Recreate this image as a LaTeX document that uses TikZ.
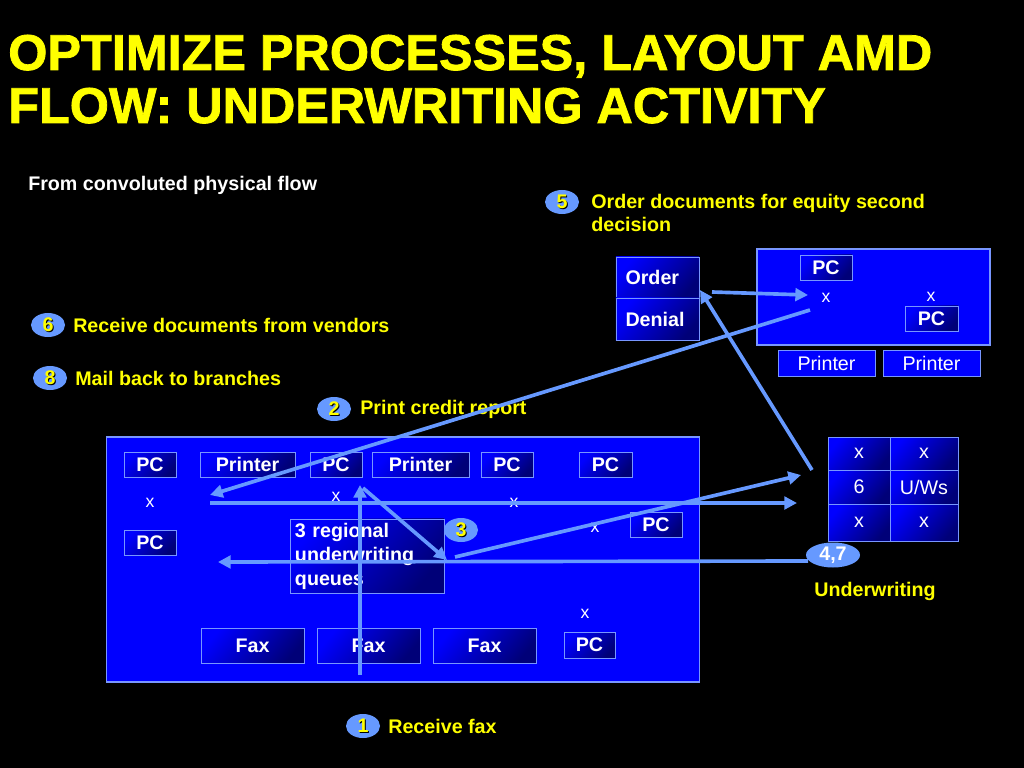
\documentclass[tikz,border=0pt]{standalone}
\usepackage{fontspec}
\setmainfont{Liberation Sans}
\newfontfamily\titlefont{Liberation Sans}[BoldFeatures={FakeBold=1.5}]
\usepackage{xcolor}
\usetikzlibrary{shapes.geometric, arrows.meta, positioning, calc}
\definecolor{flowblue}{RGB}{102,153,255}
\definecolor{edgeblue}{RGB}{120,150,255}
\definecolor{deepnavy}{RGB}{0,0,120}
\definecolor{brightblue}{RGB}{0,0,255}
\definecolor{tityellow}{RGB}{255,255,0}
\newcommand{\shadnum}[1]{\makebox[0pt][l]{\kern0.8pt\raisebox{-0.8pt}{\textcolor{black}{#1}}}#1}
\tikzset{
    panel/.style={rectangle, draw=edgeblue, fill=brightblue, line width=0.8pt, inner sep=0pt},
    unit/.style={rectangle, draw=edgeblue, line width=0.6pt, left color=brightblue,
                 right color=deepnavy, shading angle=50, text=white, inner sep=0pt,
                 font=\bfseries\fontsize{14}{17}\selectfont},
    cell/.style={unit, font=\fontsize{14}{17}\selectfont},
    plainunit/.style={rectangle, draw=edgeblue, line width=0.6pt, fill=brightblue,
                      text=white, inner sep=0pt, font=\fontsize{14}{17}\selectfont},
    badge/.style={ellipse, fill=flowblue, inner sep=0pt, minimum width=0.85cm,
                  minimum height=0.6cm, text=tityellow,
                  font=\bfseries\fontsize{14}{17}\selectfont},
    note/.style={anchor=west, text=tityellow, inner sep=0pt, align=left,
                 font=\bfseries\fontsize{14}{17}\selectfont},
    xmark/.style={text=white, inner sep=0pt, font=\fontsize{12.5}{15}\selectfont},
    flow/.style={-{Triangle[length=9pt, width=9pt]}, line width=2.6pt, draw=flowblue}
}

\begin{document}
\begin{tikzpicture}[x=0.025cm, y=-0.025cm]

  % --- Background ---
  \fill[black] (0,0) rectangle (1024,768);
  \useasboundingbox (0,0) rectangle (1024,768);

  % --- Title ---
  \node[anchor=base west, inner sep=0pt, text=tityellow,
        font=\titlefont\bfseries\fontsize{35.8}{40}\selectfont] (title1) at (8,70)
        {OPTIMIZE PROCESSES, LAYOUT AMD};
  \node[anchor=base west, inner sep=0pt, text=tityellow,
        font=\titlefont\bfseries\fontsize{35.8}{40}\selectfont] (title2) at (8,123)
        {FLOW: UNDERWRITING ACTIVITY};
  \node[anchor=base west, inner sep=0pt, text=white,
        font=\bfseries\fontsize{14}{17}\selectfont] (sub) at (28,190)
        {From convoluted physical flow};

  % --- Step labels ---
  \node[badge] (b5) at (562,202) {\shadnum{5}};
  \node[note] (n5) at (591,213) {Order documents for equity second\\decision};
  \node[badge] (b6) at (48,325) {\shadnum{6}};
  \node[note] (n6) at (73,325) {Receive documents from vendors};
  \node[badge] (b8) at (50,378) {\shadnum{8}};
  \node[note] (n8) at (75,378) {Mail back to branches};
  \node[badge] (b2) at (334,409) {\shadnum{2}};
  \node[note] (n2) at (360,409) {Print credit report};
  \node[badge] (b1) at (363,726) {\shadnum{1}};
  \node[note] (n1) at (388,726) {Receive fax};

  % --- Branch floor ---
  \node[panel, minimum width=14.8cm, minimum height=6.125cm] (floor) at (403,559.5) {};
  \node[unit, minimum width=1.3cm, minimum height=0.625cm] (pc1) at (150,464.5) {PC};
  \node[unit, minimum width=2.375cm, minimum height=0.625cm] (prn1) at (247.5,464.5) {Printer};
  \node[unit, minimum width=1.3cm, minimum height=0.625cm] (pc2) at (336,464.5) {PC};
  \node[unit, minimum width=2.425cm, minimum height=0.625cm] (prn2) at (420.5,464.5) {Printer};
  \node[unit, minimum width=1.3cm, minimum height=0.625cm] (pc3) at (507,464.5) {PC};
  \node[unit, minimum width=1.325cm, minimum height=0.625cm] (pc4) at (605.5,464.5) {PC};
  \node[unit, minimum width=1.3cm, minimum height=0.625cm] (pc5) at (150,542.5) {PC};
  \node[unit, minimum width=1.3cm, minimum height=0.625cm] (pc6) at (656,524.5) {PC};
  \node[unit, minimum width=3.85cm, minimum height=1.85cm, text width=3.6cm,
        align=left, inner xsep=0.125cm] (queue) at (367,556)
        {3 regional\\underwriting\\queues};
  \node[unit, minimum width=2.575cm, minimum height=0.875cm] (fax1) at (252.5,645.5) {Fax};
  \node[unit, minimum width=2.575cm, minimum height=0.875cm] (fax2) at (368.5,645.5) {Fax};
  \node[unit, minimum width=2.575cm, minimum height=0.875cm] (fax3) at (484.5,645.5) {Fax};
  \node[unit, minimum width=1.275cm, minimum height=0.65cm] (pc7) at (589.5,645) {PC};
  \node[xmark] (xa) at (150,503) {x};
  \node[xmark] (xb) at (336,497) {x};
  \node[xmark] (xc) at (514,503) {x};
  \node[xmark] (xd) at (595,528) {x};
  \node[xmark] (xe) at (585,614) {x};
  \node[badge] (b3) at (461,530) {\shadnum{3}};

  % --- Order / Denial ---
  \node[unit, minimum width=2.075cm, minimum height=1.025cm, text width=1.6cm,
        align=left, inner xsep=0.225cm] (order) at (657.5,277.5) {Order};
  \node[unit, minimum width=2.075cm, minimum height=1.05cm, text width=1.6cm,
        align=left, inner xsep=0.225cm] (denial) at (657.5,319) {Denial};

  % --- Second decision office ---
  \node[panel, minimum width=5.825cm, minimum height=2.4cm] (office) at (873.5,297) {};
  \node[unit, minimum width=1.3cm, minimum height=0.625cm] (pc8) at (826,267.5) {PC};
  \node[unit, minimum width=1.325cm, minimum height=0.625cm] (pc9) at (931.5,318.5) {PC};
  \node[xmark] (xf) at (826,298) {x};
  \node[xmark] (xg) at (931,297) {x};
  \node[plainunit, minimum width=2.425cm, minimum height=0.65cm] (prn3) at (826.5,363) {Printer};
  \node[plainunit, minimum width=2.425cm, minimum height=0.65cm] (prn4) at (931.5,363) {Printer};

  % --- Underwriting ---
  \node[cell, minimum width=1.55cm, minimum height=0.825cm] (uw11) at (859,453.5) {x};
  \node[cell, minimum width=1.7cm, minimum height=0.825cm] (uw12) at (924,453.5) {x};
  \node[cell, minimum width=1.55cm, minimum height=0.85cm] (uw21) at (859,487) {6};
  \node[cell, minimum width=1.7cm, minimum height=0.85cm] (uw22) at (924,487) {U/Ws};
  \node[cell, minimum width=1.55cm, minimum height=0.925cm] (uw31) at (859,522.5) {x};
  \node[cell, minimum width=1.7cm, minimum height=0.925cm] (uw32) at (924,522.5) {x};
  \node[badge, minimum width=1.35cm, minimum height=0.625cm, text=white] (b47) at (833,555) {4,7};
  \node[note, anchor=center] (uwlabel) at (875,591) {Underwriting};

  % --- Flow ends ---
  \coordinate (faxfoot) at (360,675);
  \coordinate (pctop) at (360,485);
  \coordinate (diagtop) at (363,488);
  \coordinate (qcorner) at (447,560);
  \coordinate (qout) at (455,557);
  \coordinate (uwin) at (801,475);
  \coordinate (rowstart) at (210,503);
  \coordinate (rowend) at (797,503);
  \coordinate (backstart) at (808,561);
  \coordinate (backend) at (218,562);
  \coordinate (prtstart) at (810,310);
  \coordinate (prtend) at (210,495);
  \coordinate (uwtop) at (812,470);
  \coordinate (orderin) at (700,290);
  \coordinate (orderout) at (712,292);
  \coordinate (pcin) at (808,295);

  % --- Arrows ---
  \draw[flow] (faxfoot) -- (pctop);
  \draw[flow] (diagtop) -- (qcorner);
  \draw[flow] (qout) -- (uwin);
  \draw[flow] (rowstart) -- (rowend);
  \draw[flow] (backstart) -- (backend);
  \draw[flow] (prtstart) -- (prtend);
  \draw[flow] (uwtop) -- (orderin);
  \draw[flow] (orderout) -- (pcin);

\end{tikzpicture}
\end{document}
